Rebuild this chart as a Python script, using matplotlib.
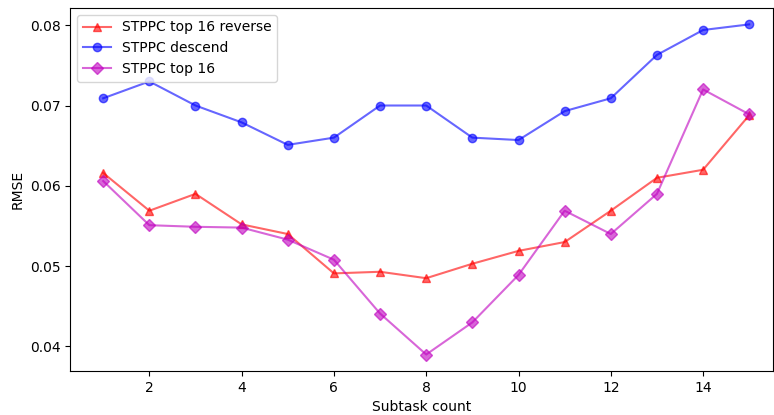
import numpy as np
import matplotlib
matplotlib.use('Agg')
import matplotlib.pyplot as plt

# ── Data ─────────────────────────────────────────────────────
subtasks = list(range(1, 16))

rmse_top16_reverse = [0.0616, 0.0569, 0.0590, 0.0552, 0.0540, 0.0491, 0.0493,
                      0.0485, 0.0503, 0.0519, 0.0530, 0.0569, 0.0610, 0.0620,
                      0.0688]
rmse_descend = [0.0709, 0.0730, 0.0700, 0.0679, 0.0651, 0.0660, 0.0700,
                0.0700, 0.0660, 0.0657, 0.0693, 0.0709, 0.0763, 0.0794,
                0.0801]
rmse_top16 = [0.0606, 0.0551, 0.0549, 0.0548, 0.0533, 0.0508, 0.0441,
              0.0390, 0.0430, 0.0489, 0.0569, 0.0540, 0.0590, 0.0720,
              0.0689]

fig, ax = plt.subplots(figsize=(7.74, 4.15), dpi=100)
fig.subplots_adjust(left=0.091, right=0.999, top=0.981, bottom=0.106)

ax.plot(subtasks, rmse_top16_reverse, color='red', marker='^', alpha=0.6,
        label='STPPC top 16 reverse')
ax.plot(subtasks, rmse_descend, color='blue', marker='o', alpha=0.6,
        label='STPPC descend')
ax.plot(subtasks, rmse_top16, color='m', marker='D', alpha=0.6,
        label='STPPC top 16')

ax.set_xlabel('Subtask count')
ax.set_ylabel('RMSE')
ax.set_xlim(0.29, 15.52)
ax.set_xticks([2, 4, 6, 8, 10, 12, 14])
ax.set_yticks([0.04, 0.05, 0.06, 0.07, 0.08])
ax.legend(loc='upper left')

plt.savefig('out.png', dpi=100)
